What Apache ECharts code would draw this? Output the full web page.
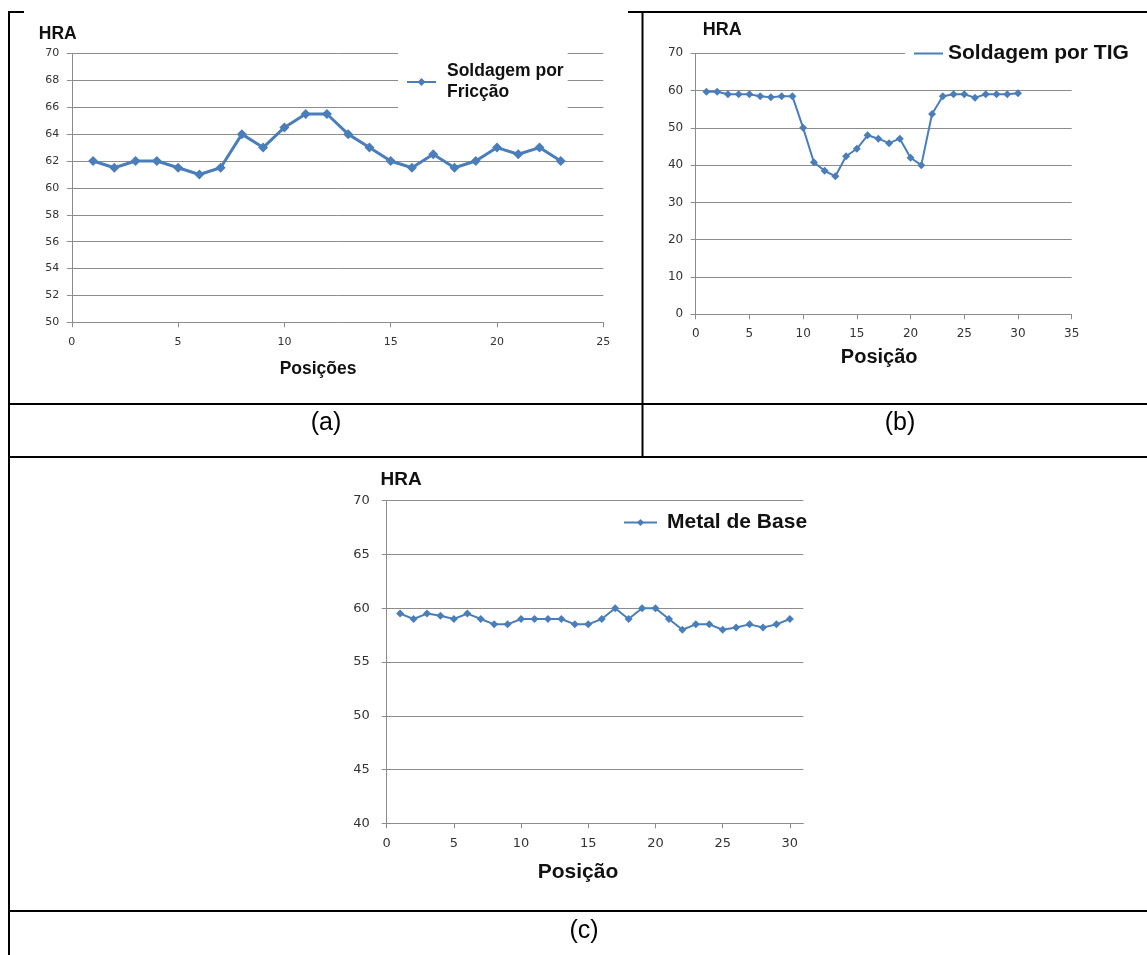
<!DOCTYPE html>
<html>
<head>
<meta charset="utf-8">
<title>HRA</title>
<script src="https://cdn.jsdelivr.net/npm/echarts@6/dist/echarts.min.js"></script>
<style>
  html, body { margin: 0; padding: 0; background: #fff; }
  #chart { width: 1147px; height: 955px; }
</style>
</head>
<body>
<div id="chart"></div>
<script>
// (a) Soldagem por Fricção
var posA = [1, 2, 3, 4, 5, 6, 7, 8, 9, 10, 11, 12, 13, 14, 15, 16, 17, 18, 19, 20, 21, 22, 23]
var hraA = [62, 61.5, 62, 62, 61.5, 61, 61.5, 64, 63, 64.5, 65.5, 65.5, 64, 63, 62, 61.5, 62.5, 61.5, 62, 63, 62.5, 63, 62]

// (b) Soldagem por TIG
var posB = [1, 2, 3, 4, 5, 6, 7, 8, 9, 10, 11, 12, 13, 14, 15, 16, 17, 18, 19, 20, 21, 22, 23, 24, 25, 26, 27, 28, 29, 30]
var hraB = [59.7, 59.7, 59, 59, 59, 58.5, 58.2, 58.5, 58.5, 50, 40.8, 38.5, 37, 42.4, 44.4, 48, 47.1, 45.9, 47.1, 42, 40, 53.7, 58.5, 59, 59, 58.1, 59, 59, 59, 59.3]

// (c) Metal de Base
var posC = [1, 2, 3, 4, 5, 6, 7, 8, 9, 10, 11, 12, 13, 14, 15, 16, 17, 18, 19, 20, 21, 22, 23, 24, 25, 26, 27, 28, 29, 30]
var hraC = [59.5, 59, 59.5, 59.3, 59, 59.5, 59, 58.5, 58.5, 59, 59, 59, 59, 58.5, 58.5, 59, 60, 59, 60, 60, 59, 58, 58.5, 58.5, 58, 58.2, 58.5, 58.2, 58.5, 59]

var ticksC = [0, 5, 10, 15, 20, 25, 30]
var captions = ['(a)', '(b)', '(c)']

var blue = '#4a7ebb'
var gridGray = '#8c8c8c'
var labelColor = '#333'
var titleFont = 'Liberation Sans, Arial, sans-serif'
var numFont = 'DejaVu Sans, Verdana, sans-serif'

function pairs(xs, ys) {
  return xs.map(function (x, i) { return [x, ys[i]] })
}

function xAxisOf(grid, max, name, nameSize, gap, shift, numSize, extra) {
  var ax = {
    type: 'value',
    gridIndex: grid,
    min: 0,
    max: max,
    interval: 5,
    name: name,
    nameLocation: 'middle',
    nameGap: gap,
    nameTextStyle: {
      fontFamily: titleFont,
      fontWeight: 'bold',
      fontSize: nameSize,
      color: '#111',
      padding: [0, shift, 0, 0]
    },
    axisLine: { show: true, lineStyle: { color: gridGray, width: 1 } },
    axisTick: { show: true, length: 5, inside: false, lineStyle: { color: gridGray } },
    axisLabel: { margin: 14, color: labelColor, fontFamily: numFont, fontSize: numSize },
    splitLine: { show: false }
  }
  if (extra) {
    ax.axisLabel.customValues = extra
    ax.axisTick.customValues = extra
  }
  return ax
}

function yAxisOf(grid, min, max, step, numSize, margin, nameSize, gap, padLeft, padRight) {
  return {
    type: 'value',
    gridIndex: grid,
    min: min,
    max: max,
    interval: step,
    name: 'HRA',
    nameLocation: 'end',
    nameGap: gap,
    nameTextStyle: {
      fontFamily: titleFont,
      fontWeight: 'bold',
      fontSize: nameSize,
      color: '#111',
      align: 'center',
      padding: [0, padRight, 0, padLeft]
    },
    axisLine: { show: true, lineStyle: { color: gridGray, width: 1 } },
    axisTick: { show: true, length: 5, inside: false, lineStyle: { color: gridGray } },
    axisLabel: { margin: margin, color: labelColor, fontFamily: numFont, fontSize: numSize },
    splitLine: { show: true, lineStyle: { color: gridGray, width: 1 } }
  }
}

function hline(y, x1, x2) {
  return { type: 'line', shape: { x1: x1, y1: y, x2: x2, y2: y }, style: { stroke: '#000', lineWidth: 2 }, z: 100 }
}
function vline(x, y1, y2) {
  return { type: 'line', shape: { x1: x, y1: y1, x2: x, y2: y2 }, style: { stroke: '#000', lineWidth: 2 }, z: 100 }
}
function caption(text, x, y) {
  return {
    type: 'text', x: x, y: y, z: 100,
    style: { text: text, align: 'center', verticalAlign: 'middle', fontFamily: titleFont, fontSize: 25, fill: '#000' }
  }
}

var chart = echarts.init(document.getElementById('chart'))

var option = {
  animation: false,
  backgroundColor: '#fff',
  grid: [
    { left: 71.8, top: 53.5, width: 531.5, height: 268.8, containLabel: false, outerBoundsMode: 'none' },
    { left: 695.7, top: 53.3, width: 376, height: 261, containLabel: false, outerBoundsMode: 'none' },
    { left: 386.7, top: 500.7, width: 416.6, height: 322.6, containLabel: false, outerBoundsMode: 'none' }
  ],
  xAxis: [
    xAxisOf(0, 25, 'Posições', 17.5, 38, 39, 11),
    xAxisOf(1, 35, 'Posição', 20, 33, 9, 12),
    xAxisOf(2, 31, 'Posição', 21, 38, 34, 13, ticksC)
  ],
  yAxis: [
    yAxisOf(0, 50, 70, 2, 11, 12.5, 17.5, 10, 0, 28),
    yAxisOf(1, 0, 70, 10, 12, 12.5, 18, 14, 53, 0),
    yAxisOf(2, 40, 70, 5, 13, 17, 19, 11, 29, 0)
  ],
  legend: [
    {
      data: ['Soldagem por Fricção'],
      left: 398, top: 53,
      padding: [8, 4, 8, 8],
      backgroundColor: '#fff',
      itemWidth: 29, itemHeight: 10,
      formatter: function () { return 'Soldagem por\nFricção' },
      textStyle: { fontFamily: titleFont, fontWeight: 'bold', fontSize: 17.5, lineHeight: 21, color: '#111', padding: [0, 0, 0, 6] }
    },
    {
      data: ['Soldagem por TIG'],
      left: 905, top: 37,
      padding: [6, 10, 6, 9],
      backgroundColor: '#fff',
      icon: 'rect',
      itemWidth: 29, itemHeight: 2,
      textStyle: { fontFamily: titleFont, fontWeight: 'bold', fontSize: 21, color: '#111' }
    },
    {
      data: ['Metal de Base'],
      left: 618, top: 508,
      padding: [4, 4, 4, 5],
      itemWidth: 33, itemHeight: 9,
      textStyle: { fontFamily: titleFont, fontWeight: 'bold', fontSize: 21, color: '#111', padding: [0, 0, 0, 5] }
    }
  ],
  series: [
    {
      name: 'Soldagem por Fricção',
      type: 'line',
      xAxisIndex: 0, yAxisIndex: 0,
      data: pairs(posA, hraA),
      symbol: 'diamond', symbolSize: 10,
      lineStyle: { color: blue, width: 3 },
      itemStyle: { color: blue }
    },
    {
      name: 'Soldagem por TIG',
      type: 'line',
      xAxisIndex: 1, yAxisIndex: 1,
      data: pairs(posB, hraB),
      symbol: 'diamond', symbolSize: 8,
      lineStyle: { color: blue, width: 2 },
      itemStyle: { color: blue }
    },
    {
      name: 'Metal de Base',
      type: 'line',
      xAxisIndex: 2, yAxisIndex: 2,
      data: pairs(posC, hraC),
      symbol: 'diamond', symbolSize: 8,
      lineStyle: { color: blue, width: 2 },
      itemStyle: { color: blue }
    }
  ],
  graphic: [
    hline(12, 8, 24),
    hline(12, 628, 1147),
    hline(404, 8, 1147),
    hline(457, 8, 1147),
    hline(911, 8, 1147),
    vline(9, 11, 955),
    vline(642.5, 11, 457),
    caption(captions[0], 326, 423),
    caption(captions[1], 900, 423),
    caption(captions[2], 584, 931)
  ]
}

chart.setOption(option)
</script>
</body>
</html>
